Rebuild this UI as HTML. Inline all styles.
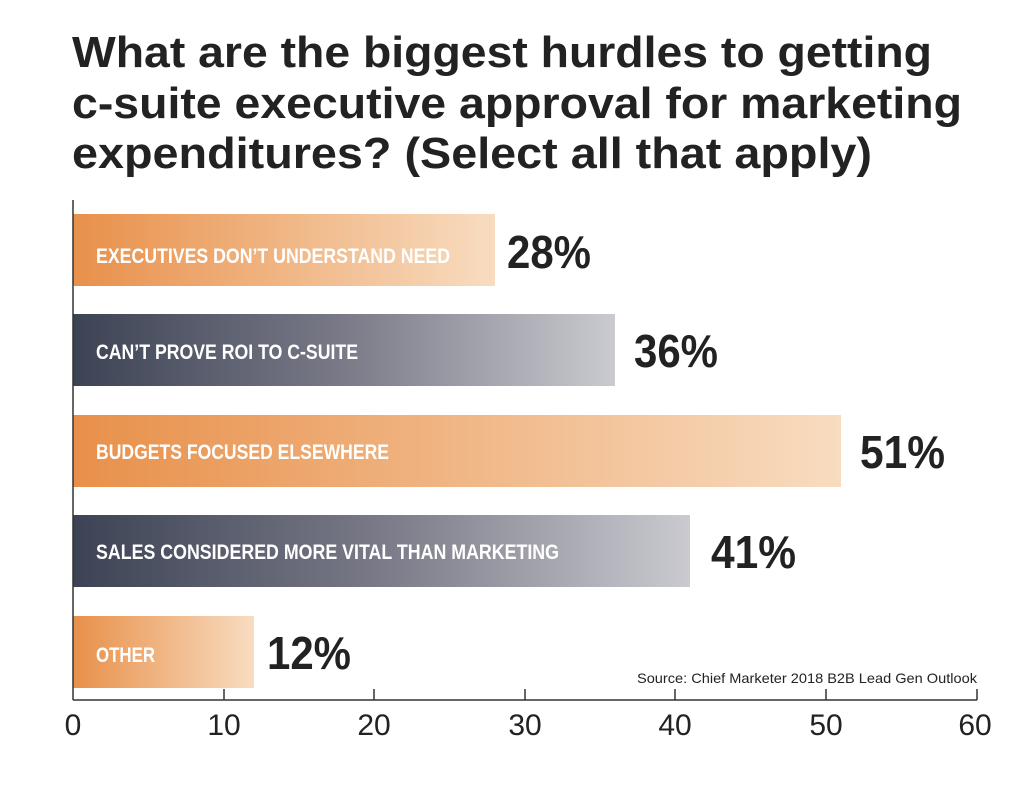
<!DOCTYPE html>
<html><head><meta charset="utf-8"><style>
html,body{margin:0;padding:0;background:#fff;}
svg{display:block;}
</style></head><body>
<svg width="1030" height="796" viewBox="0 0 1030 796" xmlns="http://www.w3.org/2000/svg">
<defs>
<linearGradient id="o" x1="0" x2="1" y1="0" y2="0"><stop offset="0" stop-color="#e8904a"/><stop offset="1" stop-color="#f8dcc0"/></linearGradient>
<linearGradient id="d" x1="0" x2="1" y1="0" y2="0"><stop offset="0" stop-color="#3c4354"/><stop offset="0.5" stop-color="#7a7a88"/><stop offset="1" stop-color="#cacad0"/></linearGradient>
</defs>
<g font-family="Liberation Sans, sans-serif" font-weight="bold" font-size="44" fill="#222">
<text x="72" y="67" textLength="860" lengthAdjust="spacingAndGlyphs">What are the biggest hurdles to getting</text>
<text x="72" y="118" textLength="890" lengthAdjust="spacingAndGlyphs">c-suite executive approval for marketing</text>
<text x="72" y="168" textLength="800" lengthAdjust="spacingAndGlyphs">expenditures? (Select all that apply)</text>
</g>
<rect x="73" y="214" width="422" height="72" fill="url(#o)"/>
<rect x="73" y="314" width="542" height="72" fill="url(#d)"/>
<rect x="73" y="415" width="768" height="72" fill="url(#o)"/>
<rect x="73" y="515" width="617" height="72" fill="url(#d)"/>
<rect x="73" y="616" width="181" height="72" fill="url(#o)"/>
<g font-family="Liberation Sans, sans-serif" font-weight="bold" font-size="21" fill="#fff">
<text x="96" y="263" textLength="354" lengthAdjust="spacingAndGlyphs">EXECUTIVES DON’T UNDERSTAND NEED</text>
<text x="96" y="359" textLength="262" lengthAdjust="spacingAndGlyphs">CAN’T PROVE ROI TO C-SUITE</text>
<text x="96" y="459" textLength="293" lengthAdjust="spacingAndGlyphs">BUDGETS FOCUSED ELSEWHERE</text>
<text x="96" y="559" textLength="463" lengthAdjust="spacingAndGlyphs">SALES CONSIDERED MORE VITAL THAN MARKETING</text>
<text x="96" y="662" textLength="59" lengthAdjust="spacingAndGlyphs">OTHER</text>
</g>
<g font-family="Liberation Sans, sans-serif" font-weight="bold" font-size="46" fill="#222">
<text x="507" y="268" textLength="84" lengthAdjust="spacingAndGlyphs">28%</text>
<text x="634" y="367" textLength="84" lengthAdjust="spacingAndGlyphs">36%</text>
<text x="860" y="468" textLength="85" lengthAdjust="spacingAndGlyphs">51%</text>
<text x="711" y="568" textLength="85" lengthAdjust="spacingAndGlyphs">41%</text>
<text x="267" y="669" textLength="84" lengthAdjust="spacingAndGlyphs">12%</text>
</g>
<text x="977" y="683" text-anchor="end" font-family="Liberation Sans, sans-serif" font-size="14" fill="#222" textLength="340" lengthAdjust="spacingAndGlyphs">Source: Chief Marketer 2018 B2B Lead Gen Outlook</text>
<g stroke="#333" stroke-width="1.5">
<line x1="73" y1="200" x2="73" y2="700"/>
<line x1="73" y1="700" x2="977" y2="700"/>
<line x1="224" y1="689" x2="224" y2="700"/>
<line x1="374" y1="689" x2="374" y2="700"/>
<line x1="525" y1="689" x2="525" y2="700"/>
<line x1="675" y1="689" x2="675" y2="700"/>
<line x1="826" y1="689" x2="826" y2="700"/>
<line x1="977" y1="689" x2="977" y2="700"/>
</g>
<g font-family="Liberation Sans, sans-serif" font-size="30" fill="#222" text-anchor="middle">
<text x="73" y="735">0</text>
<text x="224" y="735">10</text>
<text x="374" y="735">20</text>
<text x="525" y="735">30</text>
<text x="675" y="735">40</text>
<text x="826" y="735">50</text>
<text x="975" y="735">60</text>
</g>
</svg>
</body></html>
